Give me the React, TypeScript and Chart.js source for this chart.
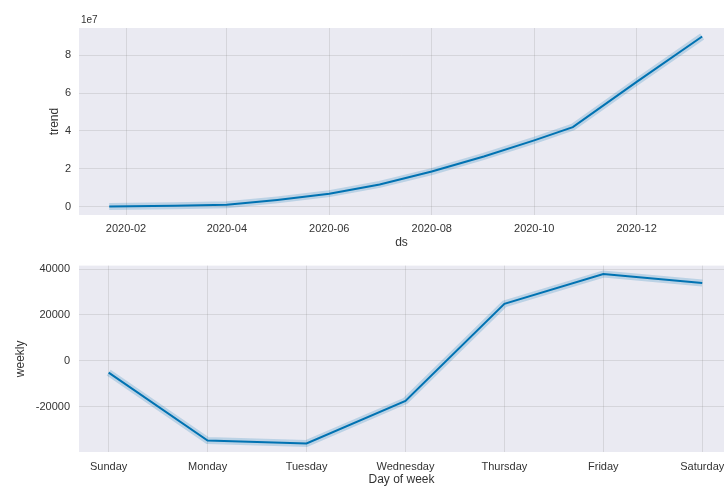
import React, { useEffect, useRef } from "react";
import { Chart, registerables } from "chart.js";

Chart.register(...registerables);

// ---- Data ----
const trendDates = [
  "2020-01-22", "2020-03-01", "2020-04-01", "2020-05-01", "2020-06-01", "2020-07-01",
  "2020-08-01", "2020-09-01", "2020-10-01", "2020-10-24", "2020-12-01", "2021-01-09",
];
const trendValues = [
  0.0e7, 0.04e7, 0.09e7, 0.35e7, 0.68e7, 1.17e7,
  1.85e7, 2.65e7, 3.5e7, 4.2e7, 6.6e7, 9.0e7,
];
const trendTickDates = ["2020-02-01", "2020-04-01", "2020-06-01", "2020-08-01", "2020-10-01", "2020-12-01"];
const trendTickLabels = ["2020-02", "2020-04", "2020-06", "2020-08", "2020-10", "2020-12"];
const trendYTicks = [0, 2e7, 4e7, 6e7, 8e7];

const weekDays = ["Sunday", "Monday", "Tuesday", "Wednesday", "Thursday", "Friday", "Saturday"];
const weeklyValues = [-5200, -34800, -36100, -17500, 24800, 37800, 33900];
const weeklyYTicks = [-20000, 0, 20000, 40000];

// ---- helpers ----
const DAY = 86400000;
const toDay = (s: string) => Date.parse(s + "T00:00:00Z") / DAY;

const BG = "#EAEAF2";
const GRID = "rgba(128,128,128,0.2)";
const LINE = "#0072B2";
const HALO = "rgba(0,114,178,0.2)";
const TEXT = "#333333";
const FONT = "'Liberation Sans', Arial, sans-serif";

const bgPlugin = {
  id: "bgPlugin",
  beforeDraw(chart: any) {
    const { ctx, chartArea } = chart;
    ctx.save();
    ctx.fillStyle = BG;
    ctx.fillRect(chartArea.left, chartArea.top, chartArea.right - chartArea.left, chartArea.bottom - chartArea.top);
    ctx.restore();
  },
};

const offsetTextPlugin = {
  id: "offsetText",
  afterDraw(chart: any) {
    const { ctx, chartArea } = chart;
    ctx.save();
    ctx.fillStyle = TEXT;
    ctx.font = `10px ${FONT}`;
    ctx.textAlign = "left";
    ctx.textBaseline = "bottom";
    ctx.fillText("1e7", chartArea.left + 2, chartArea.top - 3);
    ctx.restore();
  },
};

const noPad = (s: any) => { s.paddingLeft = 0; s.paddingRight = 0; };

function TrendChart() {
  const ref = useRef<HTMLCanvasElement>(null);
  useEffect(() => {
    const pts = trendDates.map((d, i) => ({ x: toDay(d), y: trendValues[i] }));
    const tickVals = trendTickDates.map(toDay);
    const chart = new Chart(ref.current!, {
      type: "line",
      data: {
        datasets: [
          { data: pts, borderColor: LINE, borderWidth: 2, pointRadius: 0, tension: 0, order: 0 },
          { data: pts, borderColor: HALO, borderWidth: 7, pointRadius: 0, tension: 0, order: 1 },
        ],
      },
      options: {
        animation: false,
        responsive: true,
        maintainAspectRatio: false,
        layout: { padding: { left: 47, top: 28, right: 0, bottom: 0 } },
        plugins: { legend: { display: false }, tooltip: { enabled: false } },
        scales: {
          x: {
            type: "linear",
            min: toDay("2020-01-04"),
            max: toDay("2021-01-22"),
            border: { display: false },
            grid: { color: GRID, lineWidth: 1, drawTicks: false },
            afterBuildTicks: (s: any) => { s.ticks = tickVals.map((v) => ({ value: v })); },
            afterFit: (s: any) => { s.height = 35; noPad(s); },
            ticks: {
              autoSkip: false, maxRotation: 0, padding: 7, color: TEXT,
              font: { family: FONT, size: 11 },
              callback: (v: any) => { const i = tickVals.indexOf(v); return i >= 0 ? trendTickLabels[i] : ""; },
            },
            title: { display: true, text: "ds", color: TEXT, font: { family: FONT, size: 12 }, padding: { top: 0, bottom: 0 } },
          },
          y: {
            type: "linear",
            min: -0.45e7,
            max: 9.45e7,
            border: { display: false },
            grid: { color: GRID, lineWidth: 1, drawTicks: false },
            afterBuildTicks: (s: any) => { s.ticks = trendYTicks.map((v) => ({ value: v })); },
            afterFit: (s: any) => { s.width = 32; },
            ticks: {
              padding: 8, color: TEXT, font: { family: FONT, size: 11 },
              callback: (v: any) => String(Math.round(Number(v) / 1e7)),
            },
            title: { display: true, text: "trend", color: TEXT, font: { family: FONT, size: 12 }, padding: { top: 0, bottom: 0 } },
          },
        },
      },
      plugins: [bgPlugin, offsetTextPlugin],
    } as any);
    return () => chart.destroy();
  }, []);
  return (
    <div style={{ position: "relative", width: 724, height: 250 }}>
      <canvas ref={ref} />
    </div>
  );
}

function WeeklyChart() {
  const ref = useRef<HTMLCanvasElement>(null);
  useEffect(() => {
    const pts = weeklyValues.map((v, i) => ({ x: i, y: v }));
    const tickVals = weekDays.map((_, i) => i);
    const chart = new Chart(ref.current!, {
      type: "line",
      data: {
        datasets: [
          { data: pts, borderColor: LINE, borderWidth: 2, pointRadius: 0, tension: 0, order: 0 },
          { data: pts, borderColor: HALO, borderWidth: 7, pointRadius: 0, tension: 0, order: 1 },
        ],
      },
      options: {
        animation: false,
        responsive: true,
        maintainAspectRatio: false,
        layout: { padding: { left: 13, top: 15, right: 0, bottom: 2 } },
        plugins: { legend: { display: false }, tooltip: { enabled: false } },
        scales: {
          x: {
            type: "linear",
            min: -0.3,
            max: 6.22,
            border: { display: false },
            grid: { color: GRID, lineWidth: 1, drawTicks: false },
            afterBuildTicks: (s: any) => { s.ticks = tickVals.map((v) => ({ value: v })); },
            afterFit: (s: any) => { s.height = 35; noPad(s); },
            ticks: {
              autoSkip: false, maxRotation: 0, padding: 8, color: TEXT,
              font: { family: FONT, size: 11 },
              callback: (v: any) => weekDays[Math.round(Number(v))] ?? "",
            },
            title: { display: true, text: "Day of week", color: TEXT, font: { family: FONT, size: 12 }, padding: { top: 0, bottom: 0 } },
          },
          y: {
            type: "linear",
            min: -39800,
            max: 41500,
            border: { display: false },
            grid: { color: GRID, lineWidth: 1, drawTicks: false },
            afterBuildTicks: (s: any) => { s.ticks = weeklyYTicks.map((v) => ({ value: v })); },
            afterFit: (s: any) => { s.width = 66; },
            ticks: {
              padding: 9, color: TEXT, font: { family: FONT, size: 11 },
              callback: (v: any) => String(v),
            },
            title: { display: true, text: "weekly", color: TEXT, font: { family: FONT, size: 12 }, padding: { top: 0, bottom: 0 } },
          },
        },
      },
      plugins: [bgPlugin],
    } as any);
    return () => chart.destroy();
  }, []);
  return (
    <div style={{ position: "relative", width: 724, height: 239 }}>
      <canvas ref={ref} />
    </div>
  );
}

export default function App() {
  return (
    <div style={{ position: "fixed", left: 0, top: 0, width: 724, height: 489, background: "#ffffff", overflow: "hidden" }}>
      <TrendChart />
      <WeeklyChart />
    </div>
  );
}
